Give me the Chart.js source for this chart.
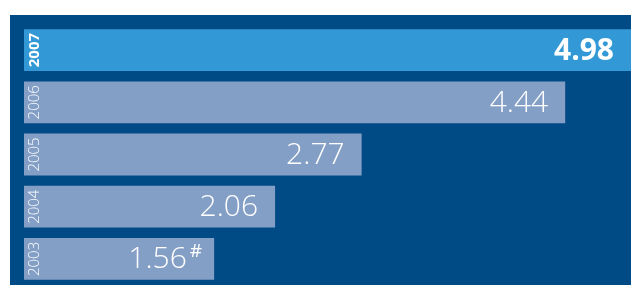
<!DOCTYPE html>
<html>
<head>
<meta charset="utf-8">
<script src="https://cdn.jsdelivr.net/npm/chart.js@4"></script>
<style>
  html, body { margin: 0; padding: 0; background: #ffffff; }
  #wrap { width: 631px; height: 285px; position: relative; }
</style>
</head>
<body>
<div id="wrap"><canvas id="grafico"></canvas></div>
<script>
// dados
const anos = ['2007', '2006', '2005', '2004', '2003'];
const valores = [4.98, 4.44, 2.77, 2.06, 1.56];
const rotulos = ['4.98', '4.44', '2.77', '2.06', '1.56'];
const notas = ['', '', '', '', '#'];

const corFundo = '#004b85';
const corDestaque = '#3399d6';
const corBarra = '#849fc6';

// painel azul escuro atras do grafico
const painel = {
  id: 'painel',
  beforeDraw(chart) {
    const c = chart.ctx;
    c.save();
    c.fillStyle = corFundo;
    c.fillRect(10, 15, chart.width - 10, chart.height - 15);
    c.restore();
  }
};

// textos dentro das barras
const rotulosBarras = {
  id: 'rotulosBarras',
  afterDatasetsDraw(chart) {
    const c = chart.ctx;
    const meta = chart.getDatasetMeta(0);
    c.save();
    c.fillStyle = '#ffffff';
    meta.data.forEach((bar, i) => {
      const destaque = i === 0;
      // ano, rodado
      c.save();
      c.translate(bar.base + 11, bar.y);
      c.rotate(-Math.PI / 2);
      c.textAlign = 'center';
      c.textBaseline = 'middle';
      c.font = (destaque ? 'bold ' : '300 ') + '15px "Open Sans", sans-serif';
      c.fillText(anos[i], 0, 0);
      c.restore();

      // valor
      let fim = bar.x - 12;
      if (notas[i]) {
        c.font = '19px "Open Sans", sans-serif';
        c.textAlign = 'right';
        c.textBaseline = 'alphabetic';
        c.fillText(notas[i], fim, bar.y - 2);
        fim -= c.measureText(notas[i]).width + 3;
      } else {
        fim -= 5;
      }
      c.font = (destaque ? 'bold ' : '300 ') + '30px "Open Sans", sans-serif';
      c.textAlign = 'right';
      c.textBaseline = 'middle';
      c.fillText(rotulos[i], fim, bar.y + 1);
    });
    c.restore();
  }
};

const ctx = document.getElementById('grafico').getContext('2d');

const grafico = new Chart(ctx, {
  type: 'bar',
  data: {
    labels: anos,
    datasets: [{
      data: valores,
      backgroundColor: anos.map((a, i) => i === 0 ? corDestaque : corBarra),
      borderWidth: 0,
      categoryPercentage: 1,
      barPercentage: 0.8
    }]
  },
  options: {
    indexAxis: 'y',
    responsive: true,
    maintainAspectRatio: false,
    animation: false,
    layout: {
      padding: { left: 24, top: 24, right: 0, bottom: 0 }
    },
    scales: {
      x: { display: false, min: 0, max: 4.98 },
      y: { display: false }
    },
    plugins: {
      legend: { display: false },
      tooltip: { enabled: false }
    }
  },
  plugins: [painel, rotulosBarras]
});
</script>
</body>
</html>
